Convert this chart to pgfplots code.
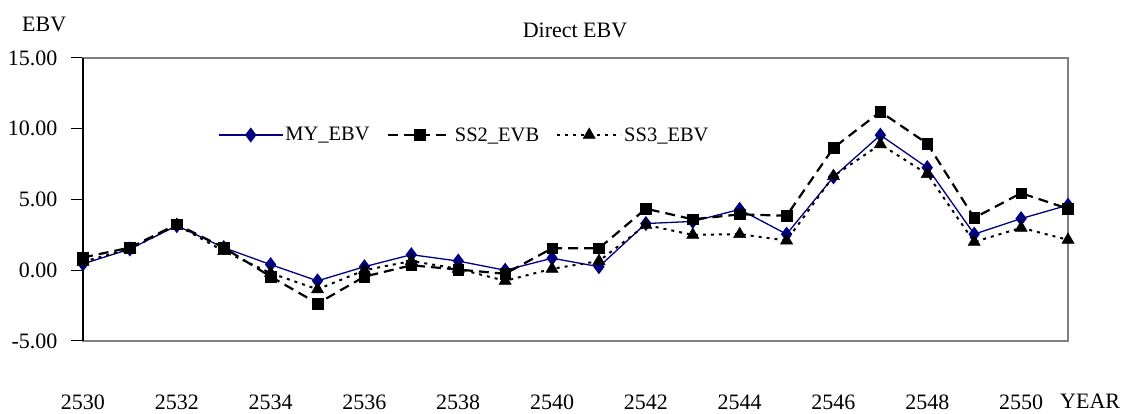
\documentclass[border=0pt]{standalone}
\usepackage{pgfplots}
\usepackage{pgfplotstable}
\pgfplotsset{compat=1.18}
\usepackage{fontspec}
\setmainfont{Liberation Serif}
\definecolor{navy}{RGB}{0,0,128}
\definecolor{framegray}{RGB}{128,128,128}

\pgfplotstableread{
year my ss2 ss3
2530 0.45 0.90 0.60
2531 1.50 1.60 1.50
2532 3.15 3.25 3.20
2533 1.60 1.60 1.35
2534 0.40 -0.45 -0.20
2535 -0.75 -2.35 -1.35
2536 0.25 -0.45 0.00
2537 1.10 0.35 0.65
2538 0.65 0.05 0.10
2539 0.00 -0.25 -0.75
2540 0.85 1.55 0.10
2541 0.25 1.55 0.65
2542 3.30 4.35 3.20
2543 3.45 3.60 2.50
2544 4.30 3.95 2.55
2545 2.55 3.85 2.10
2546 6.60 8.65 6.65
2547 9.55 11.20 8.90
2548 7.25 8.95 6.80
2549 2.55 3.70 2.00
2550 3.65 5.45 3.00
2551 4.60 4.35 2.15
}\data

\begin{document}
\begin{tikzpicture}[font=\fontsize{22}{26}\selectfont]
\path[use as bounding box] (-83pt,-73pt) rectangle (1040pt,341pt);
\begin{axis}[
  at={(0pt,0pt)}, anchor=south west,
  scale only axis, width=985pt, height=283pt,
  xmin=2530, xmax=2551, ymin=-5, ymax=15,
  clip=false,
  xtick={2530,2532,2534,2536,2538,2540,2542,2544,2546,2548,2550},
  xticklabels={2530,2532,2534,2536,2538,2540,2542,2544,2546,2548,2550},
  ytick={-5,0,5,10,15},
  yticklabels={-5.00,0.00,5.00,10.00,15.00},
  xtick style={draw=none},
  ytick style={black, line width=1pt},
  ytick pos=left,
  tick align=outside,
  major tick length=12pt,
  axis line style={framegray, line width=1.3pt},
  xticklabel style={anchor=base, yshift=-56pt},
  yticklabel style={anchor=east, xshift=-10pt},
  legend columns=3,
  legend style={at={(0.137,0.728)}, anchor=west, draw=none, fill=none,
    font=\fontsize{20.5}{24}\selectfont, inner sep=0pt,
    /tikz/every even column/.append style={column sep=15pt},
    cells={anchor=west}},
  legend image code/.code={\draw[mark repeat=2, mark phase=2] plot coordinates {(0pt,0pt) (32pt,0pt) (64pt,0pt)};},
]
\draw[black, line width=1.3pt] (rel axis cs:0,0) -- (rel axis cs:0,1);
\addplot[navy, line width=1.3pt, mark=diamond*, mark size=6.5pt, mark options={solid, fill=navy}] table[x=year, y=my] {\data};
\addlegendentry{MY\_EBV}
\addplot[black, line width=2.2pt, dash pattern=on 10pt off 6pt, mark=square*, mark size=5.3pt, mark options={solid, line width=0.5pt}] table[x=year, y=ss2] {\data};
\addlegendentry{SS2\_EVB}
\addplot[black, line width=2pt, dash pattern=on 3pt off 5pt, mark=triangle*, mark size=7pt, mark options={solid, line width=0.5pt}] table[x=year, y=ss3] {\data};
\addlegendentry{SS3\_EBV}
\end{axis}
\node[anchor=base] at (492pt,303pt) {Direct EBV};
\node[anchor=base west, inner sep=0pt] at (-61pt,309pt) {EBV};
\node[anchor=base west, inner sep=0pt] at (977pt,-68pt) {YEAR};
\end{tikzpicture}
\end{document}
